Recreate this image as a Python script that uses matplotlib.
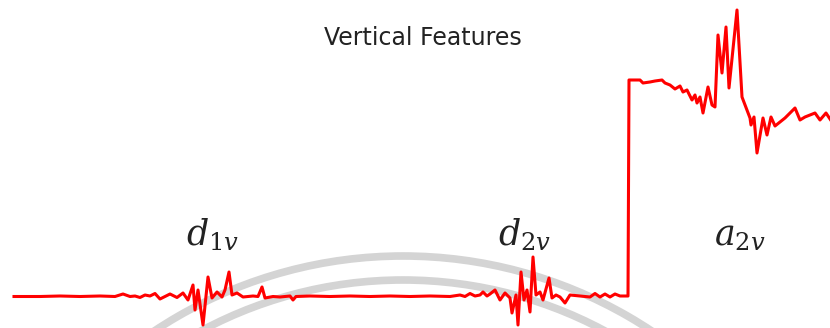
import matplotlib
matplotlib.use("Agg")
import matplotlib.pyplot as plt
from matplotlib.patches import Arc

# signal (sample position, amplitude above baseline)
pos = [14, 40, 60, 80, 100, 115, 123, 130, 135, 140, 145, 150, 155, 160, 165, 170, 177, 183,
       188, 193, 195, 198, 203, 208, 212, 217, 222, 225, 229, 232, 237, 243, 253, 258, 262, 265,
       273, 280, 290, 293, 296, 310, 330, 350, 370, 390, 410, 430, 450, 460, 465, 470, 475, 480,
       483, 487, 490, 495, 500, 505, 510, 512, 516, 518, 521, 524, 527, 530, 533, 536, 540, 543,
       549, 552, 556, 560, 565, 570, 580, 590, 595, 600, 605, 610, 615, 620, 628,
       629, 633, 640, 643, 650, 655, 662, 665, 670, 675, 680, 683, 687, 692, 695, 697, 700,
       703, 708, 712, 715, 718, 722, 726, 729, 737, 742, 747, 750, 751, 754, 757, 763, 767,
       771, 775, 785, 795, 800, 805, 815, 820, 826, 832]
amp = [-0.5, -0.5, 0, -0.5, 0, -0.5, 2, -0.5, 0, -1.5, 1, 0, 2.5, -3, -0.5, 2, -1.5, 3,
       -4, 11, -14, 6, -29, 19, -2, 4, -1, 6, 24, 1, 3, -1, 0, -0.5, 9, -2,
       -0.5, -1, 0, -4, -0.5, 0, -0.5, 0, -0.5, 0, -0.5, 0, -0.5, 1, -0.5, 2.5, 0, 1,
       4, 0, 2, 6, -4, 3, -2, -17, 1, -29, 24, -4, 6, -16, 39, 1, 4, -4,
       18, -2, 1, -1, -7, 1, 0, -1, 2.5, -1, 2, -1, 2, 0, 0,
       216, 216, 216, 213, 214, 215, 216, 213, 211, 207, 210, 204, 206, 196, 201, 193, 199,
       183, 209, 191, 189, 261, 223, 269, 208, 286, 199, 186, 178, 171, 179, 143, 178, 161,
       179, 170, 178, 188, 176, 179, 183, 176, 183, 174]

labels = [r"$d_{1v}$", r"$d_{2v}$", r"$a_{2v}$"]
label_pos = [213, 525, 740]

plt.rcParams["mathtext.fontset"] = "dejavuserif"

fig = plt.figure(figsize=(8.3, 3.28), dpi=100)
ax = fig.add_axes([0, 0, 1, 1])
ax.set_xlim(0, 830)
ax.set_ylim(-32, 296)
ax.axis("off")

# faint watermark rings behind the signal
for r in [450, 426]:
    ax.add_patch(Arc((403, -410), 2 * r, 2 * r, theta1=30, theta2=150,
                     color="#d4d4d4", lw=5.5, zorder=1))

ax.plot(pos, amp, color="#ff0000", lw=2.2, zorder=3)

ax.text(423, 258, "Vertical Features", ha="center", va="center",
        fontsize=17, family="DejaVu Sans", color="#222222")
for lab, x in zip(labels, label_pos):
    ax.text(x, 51, lab, ha="center", va="baseline", fontsize=25, color="#222222")

fig.savefig("out.png", dpi=100)
